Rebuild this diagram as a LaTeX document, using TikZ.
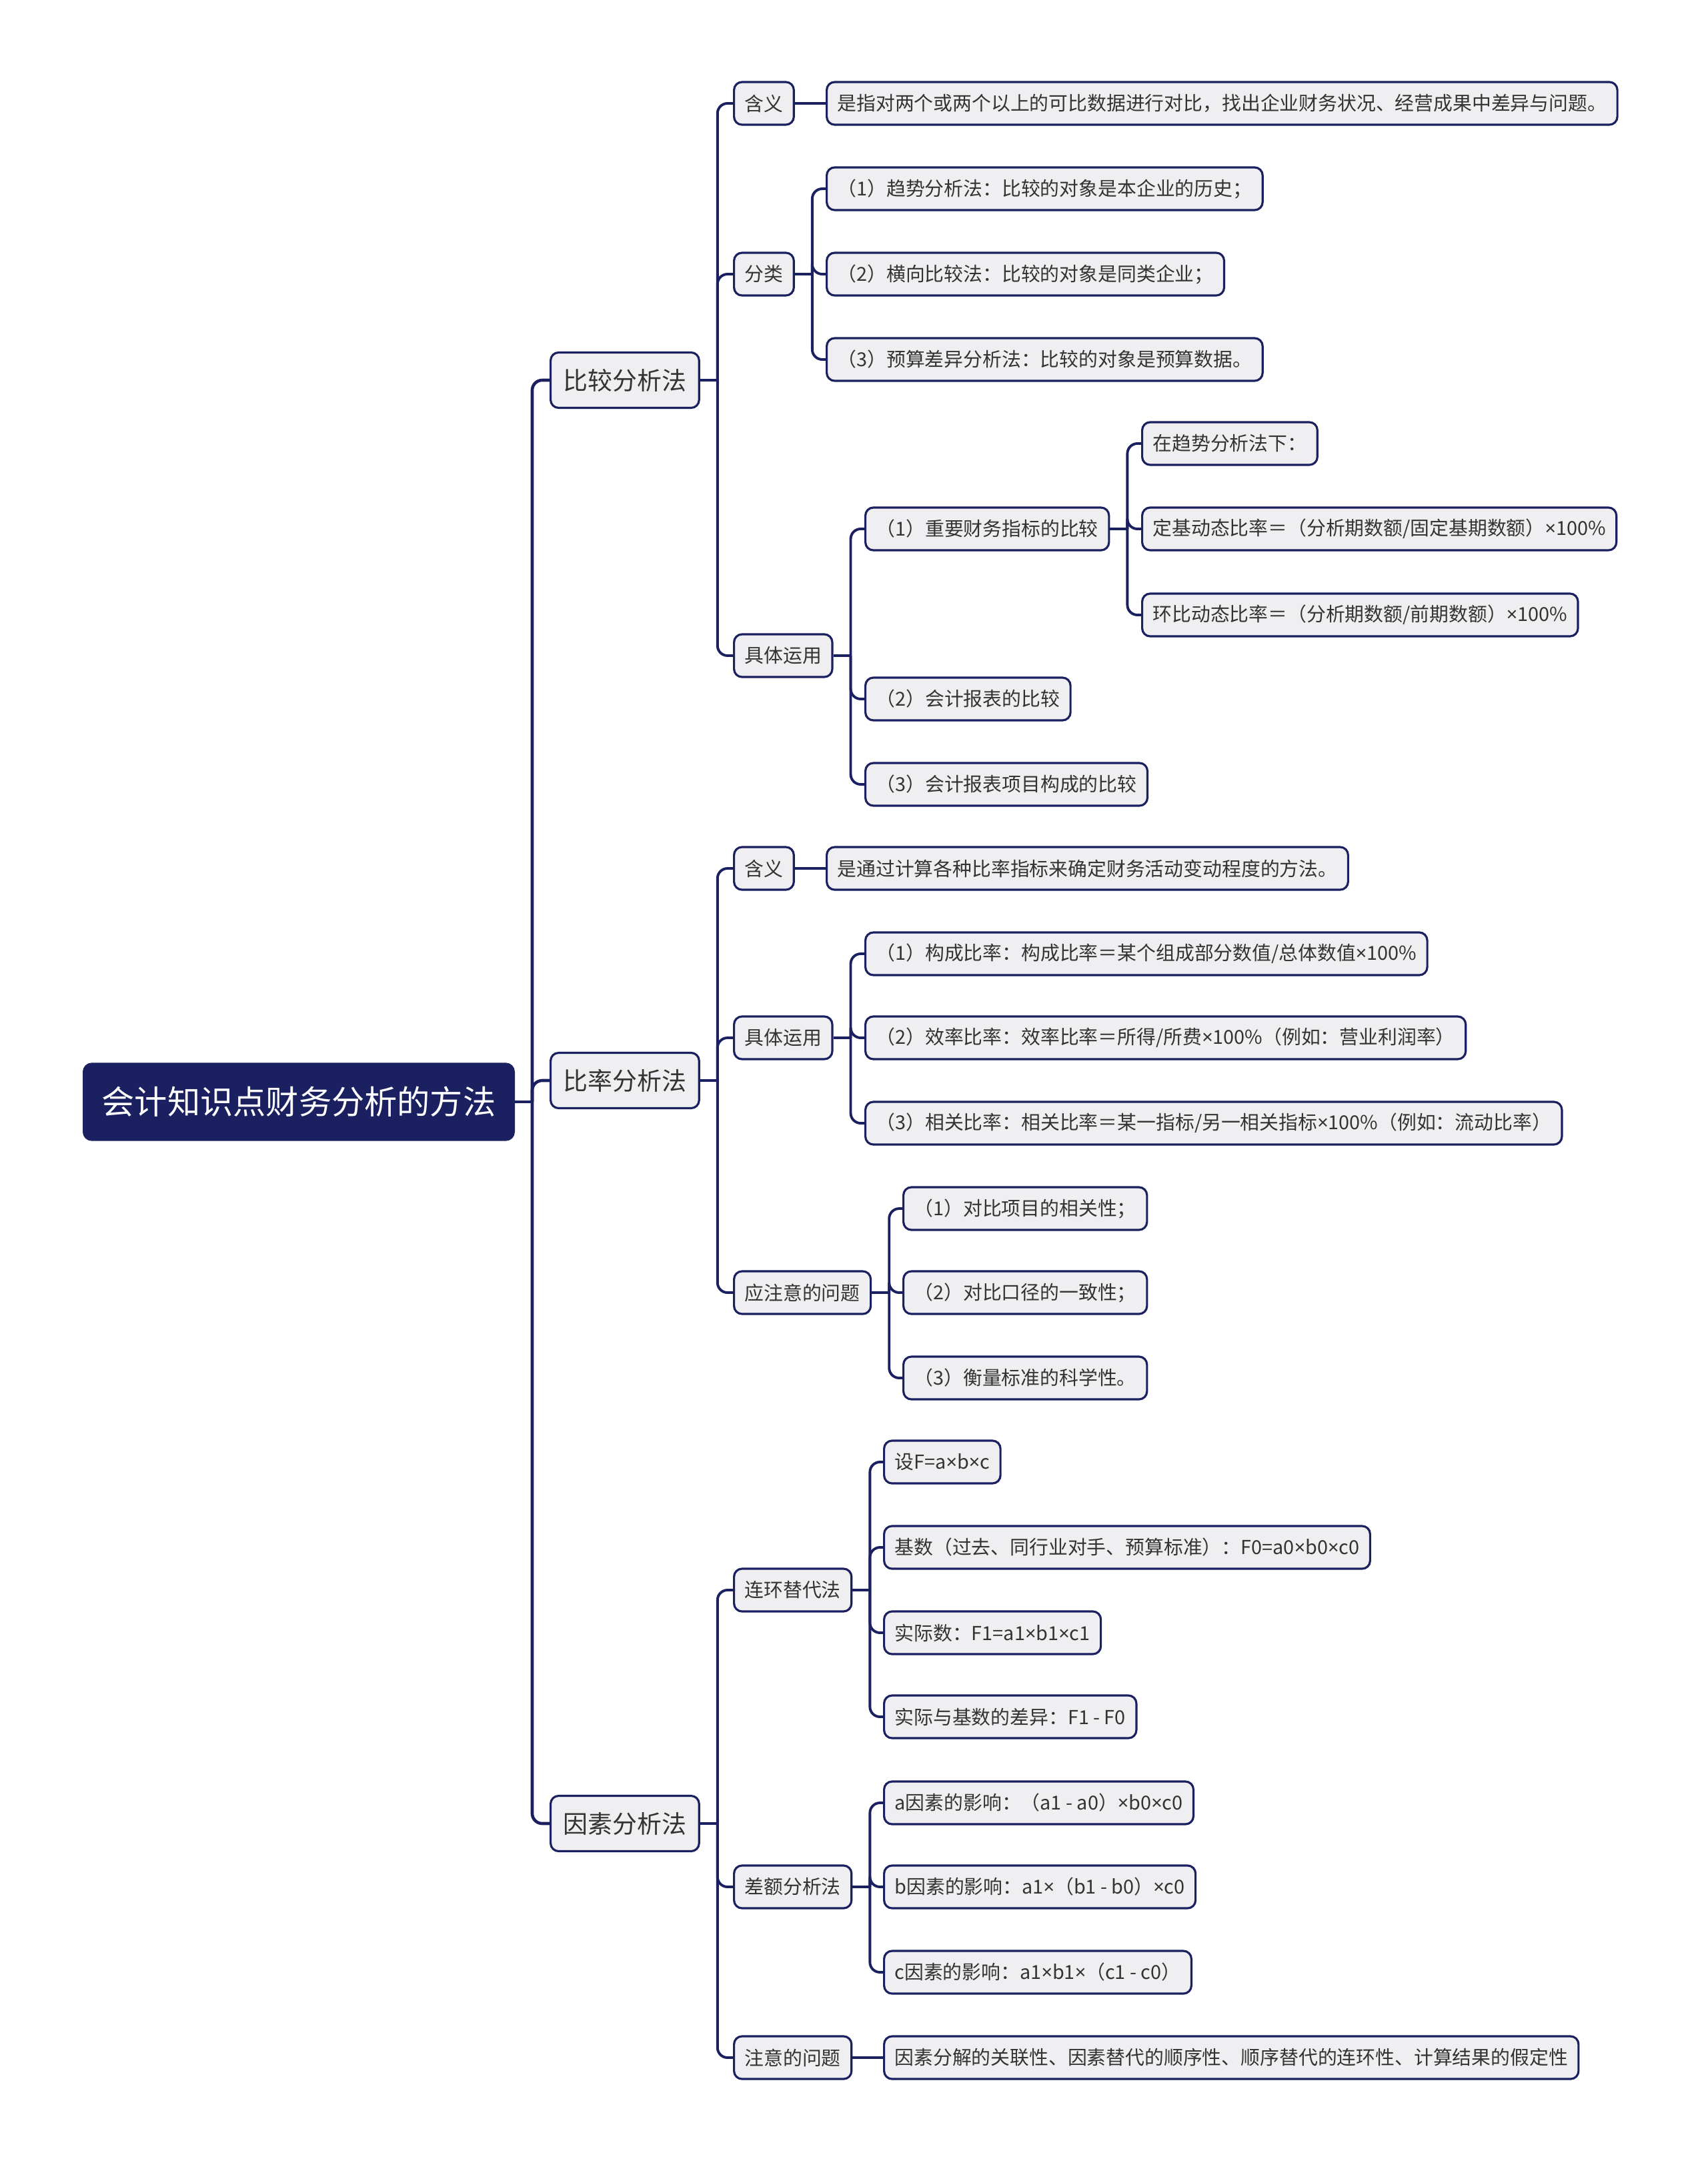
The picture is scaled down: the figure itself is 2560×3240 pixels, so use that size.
\documentclass[tikz,border=0pt]{standalone}
\usepackage{fontspec}
\newfontfamily\cjk{Noto Sans CJK SC}
\newfontfamily\latin{Noto Sans}
\newcommand\tms{{\latin ×}}
\definecolor{navy}{HTML}{1B2160}
\definecolor{boxfill}{HTML}{EFEFF1}
\definecolor{ink}{HTML}{333333}

\begin{document}
\begin{tikzpicture}[
    x=0.01cm, y=-0.01cm,
    box/.style={draw=navy, fill=boxfill, text=ink, rounded corners=0.12cm,
        line width=0.9pt, anchor=west},
    root/.style={box, fill=navy, text=white, minimum height=1.14cm,
        inner xsep=0.27cm, font=\cjk\fontsize{14}{16}\selectfont},
    topic/.style={box, minimum height=0.83cm, inner xsep=0.19cm,
        font=\cjk\fontsize{10.5}{12}\selectfont},
    leaf/.style={box, minimum height=0.64cm, inner xsep=0.16cm,
        font=\cjk\fontsize{8.2}{10}\selectfont},
    link/.style={draw=navy, line width=1.1pt},
    elbow/.style={link, rounded corners=0.15cm},
]
\def\gap{26}

\fill[white] (0,0) rectangle (2560,3240);
\useasboundingbox (0,0) rectangle (2560,3240);

% Root and the three methods
\node[root] (method) at (124,1652) {会计知识点财务分析的方法};
\node[topic] (cmp) at (824,570) {比较分析法};
\node[topic] (ratio) at (824,1620) {比率分析法};
\node[topic] (factor) at (824,2734) {因素分析法};

\draw[link, line width=1.4pt] (method.east) -- ++(\gap,0) coordinate (method-j);
\foreach \k in {cmp,ratio,factor}
    \draw[elbow, line width=1.3pt] (method-j) |- (\k.west);

% Comparison method
\node[leaf] (cmpdef) at (1099,155) {含义};
\node[leaf] (cmpcls) at (1099,411) {分类};
\node[leaf] (cmpuse) at (1099,983) {具体运用};

\node[leaf] (cmpdeft) at (1238,155)
    {是指对两个或两个以上的可比数据进行对比，找出企业财务状况、经营成果中差异与问题。};
\node[leaf] (cls1) at (1238,283) {（1）趋势分析法：比较的对象是本企业的历史；};
\node[leaf] (cls2) at (1238,411) {（2）横向比较法：比较的对象是同类企业；};
\node[leaf] (cls3) at (1238,539) {（3）预算差异分析法：比较的对象是预算数据。};

\node[leaf] (use1) at (1296,793) {（1）重要财务指标的比较};
\node[leaf] (use2) at (1296,1048) {（2）会计报表的比较};
\node[leaf] (use3) at (1296,1176) {（3）会计报表项目构成的比较};

\node[leaf] (trend) at (1711,665) {在趋势分析法下：};
\node[leaf] (fixed) at (1711,793) {定基动态比率＝（分析期数额/固定基期数额）\tms100\%};
\node[leaf] (chain) at (1711,922) {环比动态比率＝（分析期数额/前期数额）\tms100\%};

\draw[link] (cmp.east) -- ++(\gap,0) coordinate (cmp-j);
\foreach \k in {cmpdef,cmpcls,cmpuse}
    \draw[elbow] (cmp-j) |- (\k.west);
\draw[link] (cmpdef) -- (cmpdeft);
\draw[link] (cmpcls.east) -- ++(\gap,0) coordinate (cmpcls-j);
\foreach \k in {cls1,cls2,cls3}
    \draw[elbow] (cmpcls-j) |- (\k.west);
\draw[link] (cmpuse.east) -- ++(\gap,0) coordinate (cmpuse-j);
\foreach \k in {use1,use2,use3}
    \draw[elbow] (cmpuse-j) |- (\k.west);
\draw[link] (use1.east) -- ++(\gap,0) coordinate (use1-j);
\foreach \k in {trend,fixed,chain}
    \draw[elbow] (use1-j) |- (\k.west);

% Ratio method
\node[leaf] (ratdef) at (1099,1302) {含义};
\node[leaf] (ratuse) at (1099,1556) {具体运用};
\node[leaf] (ratnote) at (1099,1938) {应注意的问题};

\node[leaf] (ratdeft) at (1238,1302) {是通过计算各种比率指标来确定财务活动变动程度的方法。};
\node[leaf] (rat1) at (1296,1430) {（1）构成比率：构成比率＝某个组成部分数值/总体数值\tms100\%};
\node[leaf] (rat2) at (1296,1556) {（2）效率比率：效率比率＝所得/所费\tms100\%（例如：营业利润率）};
\node[leaf] (rat3) at (1296,1684) {（3）相关比率：相关比率＝某一指标/另一相关指标\tms100\%（例如：流动比率）};

\node[leaf] (note1) at (1353,1812) {（1）对比项目的相关性；};
\node[leaf] (note2) at (1353,1938) {（2）对比口径的一致性；};
\node[leaf] (note3) at (1353,2066) {（3）衡量标准的科学性。};

\draw[link] (ratio.east) -- ++(\gap,0) coordinate (ratio-j);
\foreach \k in {ratdef,ratuse,ratnote}
    \draw[elbow] (ratio-j) |- (\k.west);
\draw[link] (ratdef) -- (ratdeft);
\draw[link] (ratuse.east) -- ++(\gap,0) coordinate (ratuse-j);
\foreach \k in {rat1,rat2,rat3}
    \draw[elbow] (ratuse-j) |- (\k.west);
\draw[link] (ratnote.east) -- ++(\gap,0) coordinate (ratnote-j);
\foreach \k in {note1,note2,note3}
    \draw[elbow] (ratnote-j) |- (\k.west);

% Factor method
\node[leaf] (subst) at (1099,2384) {连环替代法};
\node[leaf] (diff) at (1099,2829) {差额分析法};
\node[leaf] (facnote) at (1099,3085) {注意的问题};

\node[leaf] (sub1) at (1324,2192) {设F=a\tms b\tms c};
\node[leaf] (sub2) at (1324,2320) {基数（过去、同行业对手、预算标准）：F0=a0\tms b0\tms c0};
\node[leaf] (sub3) at (1324,2448) {实际数：F1=a1\tms b1\tms c1};
\node[leaf] (sub4) at (1324,2574) {实际与基数的差异：F1 - F0};

\node[leaf] (dif1) at (1324,2703) {a因素的影响：（a1 - a0）\tms b0\tms c0};
\node[leaf] (dif2) at (1324,2829) {b因素的影响：a1\tms（b1 - b0）\tms c0};
\node[leaf] (dif3) at (1324,2957) {c因素的影响：a1\tms b1\tms（c1 - c0）};

\node[leaf] (facnotet) at (1324,3085)
    {因素分解的关联性、因素替代的顺序性、顺序替代的连环性、计算结果的假定性};

\draw[link] (factor.east) -- ++(\gap,0) coordinate (factor-j);
\foreach \k in {subst,diff,facnote}
    \draw[elbow] (factor-j) |- (\k.west);
\draw[link] (subst.east) -- ++(\gap,0) coordinate (subst-j);
\foreach \k in {sub1,sub2,sub3,sub4}
    \draw[elbow] (subst-j) |- (\k.west);
\draw[link] (diff.east) -- ++(\gap,0) coordinate (diff-j);
\foreach \k in {dif1,dif2,dif3}
    \draw[elbow] (diff-j) |- (\k.west);
\draw[link] (facnote) -- (facnotet);

\end{tikzpicture}
\end{document}
